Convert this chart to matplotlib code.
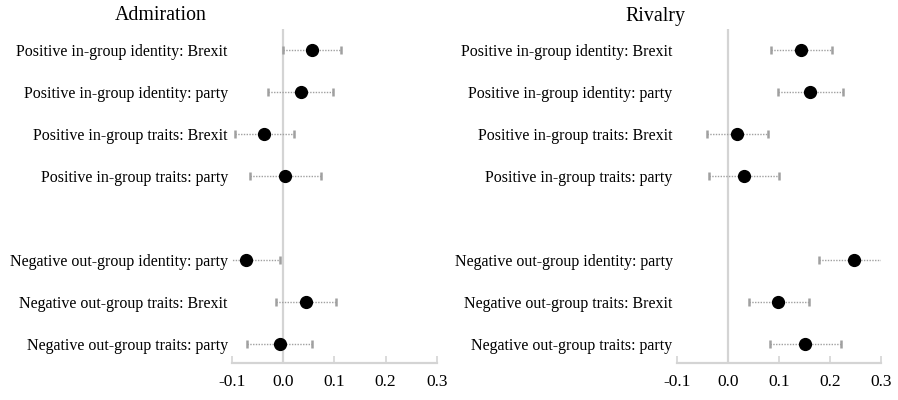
import numpy as np
import matplotlib
matplotlib.use("Agg")
import matplotlib.pyplot as plt

plt.rcParams['font.family'] = ['Liberation Serif', 'DejaVu Serif']

# outcome labels, top to bottom; slot 4 is left empty as a spacer
labels = ["Positive in-group identity: Brexit",
          "Positive in-group identity: party",
          "Positive in-group traits: Brexit",
          "Positive in-group traits: party",
          "Negative out-group identity: party",
          "Negative out-group traits: Brexit",
          "Negative out-group traits: party"]
rows = [0, 1, 2, 3, 5, 6, 7]

# Admiration: estimate, lower and upper bounds
adm_est = [0.056, 0.034, -0.037, 0.003, -0.072, 0.045, -0.007]
adm_lo = [-0.001, -0.030, -0.095, -0.065, -0.138, -0.014, -0.070]
adm_hi = [0.113, 0.098, 0.022, 0.074, -0.006, 0.104, 0.057]

# Rivalry
riv_est = [0.143, 0.160, 0.018, 0.031, 0.246, 0.098, 0.150]
riv_lo = [0.084, 0.098, -0.041, -0.037, 0.178, 0.041, 0.082]
riv_hi = [0.203, 0.225, 0.078, 0.100, 0.314, 0.158, 0.221]

xticks = [-0.1, 0.0, 0.1, 0.2, 0.3]

fig = plt.figure(figsize=(8.98, 4.0), dpi=100)
ax1 = fig.add_axes([232 / 898, 1 - 363 / 400, 204.7 / 898, 333.7 / 400])
ax2 = fig.add_axes([676.7 / 898, 1 - 363 / 400, 204.6 / 898, 333.7 / 400])


def panel(ax, est, lo, hi):
    est = np.array(est)
    err = [est - np.array(lo), np.array(hi) - est]
    ax.axvline(0, color='#d4d4d4', lw=1.6, zorder=1)
    eb = ax.errorbar(est, rows, xerr=err, fmt='none', ecolor='#a0a0a0',
                     elinewidth=1.0, capsize=3.2, capthick=1.8, zorder=2)
    eb[2][0].set_linestyle((0, (1, 1)))
    ax.plot(est, rows, 'o', color='black', ms=8.5, zorder=3)
    ax.set_xlim(-0.1, 0.3)
    ax.set_ylim(7.45, -0.5)
    ax.set_yticks(rows)
    ax.set_yticklabels(labels, fontsize=11.5)
    ax.set_xticks(xticks)
    ax.set_xticklabels([f"{t:.1f}" for t in xticks], fontsize=12.5)
    ax.tick_params(axis='y', length=0, pad=3)
    ax.tick_params(axis='x', direction='in', length=5, width=1.2,
                   color='#d4d4d4', pad=8)
    for s in ['top', 'right', 'left']:
        ax.spines[s].set_visible(False)
    ax.spines['bottom'].set_color('#d4d4d4')
    ax.spines['bottom'].set_linewidth(1.6)


panel(ax1, adm_est, adm_lo, adm_hi)
panel(ax2, riv_est, riv_lo, riv_hi)

fig.text(161 / 898, 1 - 16 / 400, "Admiration", ha='center', va='center',
         fontsize=14.3)
fig.text(655 / 898, 1 - 16 / 400, "Rivalry", ha='center', va='center',
         fontsize=14.3)

fig.savefig("out.png", dpi=100, facecolor='white')
